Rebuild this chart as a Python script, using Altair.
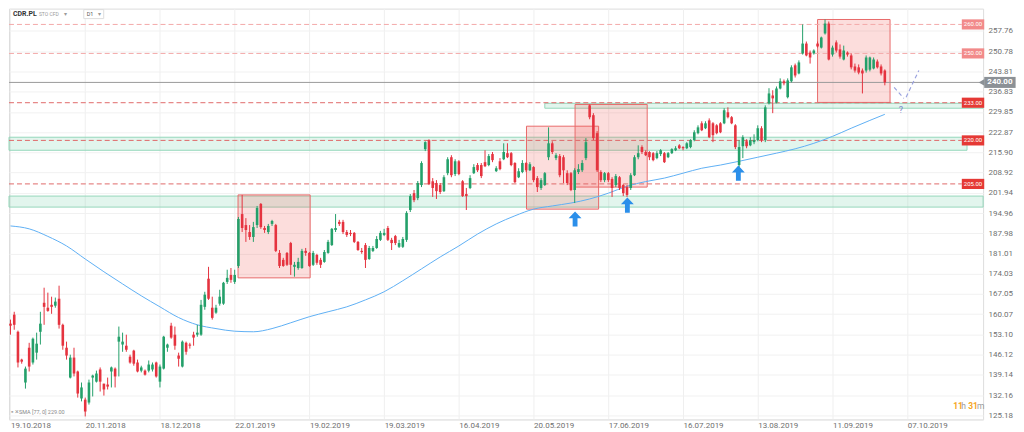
import altair as alt
import pandas as pd

# ---------------- data ----------------
OPEN = [156.8,159.9,154.0,144.4,136.5,148.5,143.4,146.8,154.0,164.0,
        162.3,163.3,163.0,165.4,156.4,148.5,138.2,145.1,140.3,131.0,
        130.6,129.6,138.2,136.8,141.0,136.1,135.8,140.3,141.3,150.6,
        149.6,149.2,145.4,147.5,143.4,140.6,140.6,140.6,141.0,143.4,
        136.8,141.3,148.5,156.1,153.0,145.8,142.0,150.2,149.6,153.0,
        153.0,153.0,162.6,172.3,162.3,160.6,163.7,163.7,171.2,173.6,
        171.2,176.7,194.6,190.8,188.4,186.7,190.8,198.1,189.8,188.4,
        191.2,190.8,181.2,178.8,181.2,184.6,176.4,176.0,176.0,181.9,
        181.2,177.1,180.5,178.8,178.1,181.2,183.9,189.1,191.9,191.9,
        188.4,188.1,188.1,185.0,181.9,183.9,179.1,181.9,182.9,185.7,
        187.4,189.8,185.7,187.0,183.3,183.3,185.7,196.0,201.8,200.1,
        204.6,217.0,220.1,205.9,205.3,204.6,202.5,208.7,214.2,208.4,
        212.8,205.9,201.5,203.6,208.7,211.5,211.5,212.5,211.5,215.3,
        209.4,212.8,213.5,215.6,215.6,212.2,207.3,209.1,212.2,209.7,
        210.8,207.0,203.6,204.6,214.2,219.0,213.9,214.6,214.2,208.7,
        208.7,202.9,209.1,209.7,213.9,232.1,228.7,222.5,209.1,206.3,
        208.7,206.7,204.6,207.3,204.6,203.9,203.6,208.0,214.2,217.7,
        216.0,216.0,215.6,213.9,215.3,215.6,214.2,215.6,216.6,218.3,
        217.7,217.3,217.7,220.1,222.5,225.9,224.2,226.9,225.9,225.2,
        225.9,225.9,229.7,228.0,225.2,211.5,218.0,219.7,218.3,219.4,
        220.1,224.2,220.1,232.8,235.5,233.1,237.9,240.4,234.9,240.4,
        245.9,243.1,250.0,253.4,250.3,250.0,253.4,252.0,256.9,260.3,
        249.6,253.8,251.4,247.9,250.3,249.3,245.5,245.2,244.1,244.1,
        244.4,244.8,247.2,245.5,244.1]
HIGH = [158.2,160.9,154.4,144.7,142.0,150.2,152.0,153.7,160.9,169.2,
        167.5,166.1,165.8,169.9,156.8,150.6,146.1,148.5,140.6,136.5,
        131.3,137.5,139.2,140.6,141.7,136.1,138.2,142.0,141.7,155.8,
        153.7,153.0,146.1,147.8,144.4,142.3,141.0,144.1,143.4,143.7,
        142.7,152.6,149.9,157.1,155.8,146.8,151.0,150.6,150.2,154.0,
        156.4,165.0,167.8,176.4,166.1,163.3,168.5,171.2,175.4,176.0,
        175.4,193.6,201.2,193.2,190.8,191.9,197.4,198.4,190.5,191.2,
        192.6,191.2,182.2,179.5,181.5,185.0,178.1,179.5,182.6,182.9,
        181.5,181.9,180.9,179.5,182.2,185.7,189.8,194.6,192.6,192.6,
        189.1,189.1,188.4,185.3,182.9,184.6,183.6,183.6,187.0,188.8,
        189.5,190.5,186.4,187.4,185.7,186.7,195.6,201.5,202.9,206.0,
        212.8,219.7,220.4,207.0,206.3,205.3,208.0,214.2,214.9,213.5,
        213.2,206.3,203.6,208.0,211.8,212.2,212.2,216.6,215.3,216.0,
        211.1,213.9,219.0,219.0,216.0,212.5,210.4,213.2,212.5,212.5,
        211.1,207.7,207.0,209.1,224.5,219.7,215.6,215.3,214.9,209.7,
        209.1,210.4,211.8,213.2,220.8,232.4,229.4,223.2,209.7,209.1,
        209.1,207.3,208.4,207.7,204.9,204.6,208.7,214.9,218.3,218.3,
        216.6,216.3,216.0,216.3,217.0,216.0,216.0,217.3,218.0,218.7,
        218.0,219.4,220.4,223.5,225.2,226.6,226.6,227.6,226.3,225.6,
        226.3,231.1,231.4,228.4,225.6,220.1,221.8,220.4,221.1,222.1,
        225.2,224.9,232.1,238.0,237.3,238.6,241.4,241.0,241.4,245.9,
        246.5,247.6,260.0,254.1,251.0,251.4,254.1,255.8,261.7,261.0,
        252.7,254.5,253.1,252.7,250.7,250.0,246.5,246.2,244.8,249.3,
        248.9,248.6,247.9,246.2,244.5]
LOW = [153.0,154.7,141.7,143.0,134.4,140.3,142.7,144.4,149.6,156.4,
       160.9,160.2,162.3,155.1,147.8,144.4,137.9,138.6,131.3,130.0,
       124.8,128.9,131.7,136.5,133.4,132.0,134.1,134.8,134.8,138.6,
       147.1,147.1,143.0,142.3,140.0,140.0,138.9,140.0,140.3,138.2,
       134.8,141.0,147.1,151.6,147.8,142.0,141.7,146.1,148.2,149.2,
       152.3,152.6,161.6,165.0,158.2,160.2,163.0,163.3,170.5,170.9,
       170.5,176.0,188.4,185.0,185.7,185.0,189.8,189.5,188.1,187.7,
       190.5,181.5,176.0,176.4,176.7,173.6,173.0,175.4,175.7,180.2,
       176.4,176.7,177.1,176.0,177.8,180.9,183.6,188.4,190.5,187.7,
       186.7,187.0,184.6,181.9,180.9,176.0,178.8,181.5,182.6,185.3,
       187.0,185.3,182.2,183.9,182.9,182.9,185.0,195.3,198.7,199.4,
       203.9,216.3,204.6,200.5,199.8,201.5,202.2,208.0,207.3,207.7,
       208.0,200.5,196.0,203.2,208.4,209.1,207.0,210.8,211.1,212.5,
       209.1,209.7,213.2,213.9,211.1,205.3,207.0,208.7,209.1,209.4,
       205.6,202.2,202.9,204.3,213.2,215.3,213.2,207.3,205.3,204.6,
       202.5,198.4,208.4,209.1,213.2,227.3,220.1,209.1,205.6,205.6,
       205.6,200.5,203.9,202.9,200.8,200.5,202.9,207.7,213.5,215.3,
       214.6,213.2,212.8,213.5,214.6,212.2,213.9,215.3,216.3,217.0,
       216.6,217.0,217.3,219.7,222.1,223.2,223.9,220.8,219.4,222.1,
       222.5,225.6,227.6,225.6,217.0,210.8,213.9,217.3,218.0,218.7,
       219.7,219.4,219.4,232.4,229.4,232.8,237.6,239.0,234.5,240.0,
       241.7,242.8,249.6,249.0,246.5,249.6,252.0,251.7,256.5,247.6,
       248.9,250.3,248.2,247.6,248.9,244.5,243.4,242.8,236.2,243.4,
       243.8,244.5,244.8,242.4,239.0]
CLOSE = [156.1,156.4,143.4,143.7,141.3,142.0,151.6,149.9,156.8,162.6,
         161.2,162.6,164.4,156.4,149.2,145.8,145.1,139.6,132.7,134.8,
         126.5,136.5,138.9,139.6,136.8,134.1,135.1,141.7,138.6,152.3,
         150.6,147.8,143.4,143.0,140.3,141.7,139.2,142.7,142.7,138.6,
         142.0,152.3,149.6,152.0,149.2,144.7,150.6,147.1,149.2,152.0,
         153.7,163.3,166.8,165.4,158.8,162.3,166.1,170.9,172.6,171.9,
         173.6,192.9,189.8,189.1,186.7,190.1,196.7,190.1,189.1,190.5,
         192.2,181.9,176.7,176.7,177.1,177.1,177.1,178.1,181.9,181.2,
         176.7,181.2,177.8,177.1,181.5,185.0,189.5,189.8,191.2,188.4,
         187.4,187.7,185.0,182.2,181.5,178.8,182.9,182.9,186.0,188.1,
         188.1,185.7,184.6,184.6,184.6,186.0,195.0,200.8,199.4,205.3,
         212.2,219.4,204.9,203.6,202.5,202.2,207.3,213.5,208.0,212.8,
         208.4,200.8,200.8,207.0,210.8,209.7,207.7,211.1,214.6,213.2,
         210.4,210.1,216.0,214.2,211.5,205.6,209.4,212.2,209.7,211.8,
         206.3,203.9,206.3,208.7,219.0,216.0,214.9,208.0,209.7,205.3,
         202.9,209.7,210.1,212.2,219.4,228.0,220.8,209.7,206.3,208.7,
         206.3,203.6,207.7,203.6,201.8,201.2,208.0,214.2,215.6,216.0,
         214.9,214.2,213.2,215.6,216.6,212.5,215.6,217.0,217.3,217.3,
         217.3,219.0,220.1,222.8,224.5,223.5,225.9,221.1,221.8,222.5,
         222.8,230.4,228.0,225.9,217.7,217.7,221.1,218.0,220.1,220.1,
         224.2,220.1,231.4,236.2,234.5,237.9,240.4,239.7,240.7,245.2,
         242.4,246.9,253.4,249.3,248.6,251.0,252.4,255.5,260.3,247.9,
         252.0,251.0,248.9,251.0,249.6,245.2,244.1,243.4,243.1,248.6,
         248.6,247.9,245.2,243.1,240.0]

SMA_IDX = list(range(0, 231, 5)) + [234]
SMA_VAL = [190.5,189.5,186.9,183.6,179.1,174.7,170.5,166.4,162.6,158.9,
           156.4,155.1,154.2,154.0,155.1,157.1,159.2,160.9,162.6,165.0,
           167.8,171.6,175.7,179.8,183.6,187.7,191.2,194.0,196.3,197.4,
           198.4,199.8,201.8,204.2,205.8,207.0,208.7,210.4,211.5,212.8,
           214.2,215.6,217.1,219.0,221.4,224.2,226.9,229.0]

DATE_LABELS = ["19.10.2018","20.11.2018","18.12.2018","22.01.2019","19.02.2019",
               "19.03.2019","16.04.2019","20.05.2019","17.06.2019","16.07.2019",
               "13.08.2019","11.09.2019","07.10.2019"]
DATE_TICKS = [0,20,40,60,80,100,120,140,160,180,200,220,240]
Y_TICKS = [125.18,132.16,139.14,146.12,153.10,160.07,167.05,174.03,181.01,187.98,
           194.96,201.94,208.92,215.90,222.87,229.85,236.83,243.81,250.78,257.76]

LEVELS = [260.0, 250.0, 233.0, 220.0, 205.0]
LEVEL_STRONG = [0, 0, 1, 1, 1]
LAST_PRICE = 240.0

ZONE_LO = [216.6, 197.0, 231.1]
ZONE_HI = [221.1, 200.8, 232.8]
ZONE_X0 = [-0.4, -0.4, 143.0]
ZONE_X1 = [256.0, 260.3, 260.3]

BOX_X0 = [60.9, 138.1, 151.1, 216.0]
BOX_X1 = [80.2, 157.4, 170.4, 235.4]
BOX_LO = [172.6, 196.3, 203.9, 233.1]
BOX_HI = [201.2, 224.9, 232.4, 261.7]

ARROW_IDX = [151.1, 165.1, 194.8]
ARROW_PRICE = [192.9, 197.7, 208.7]

V_IDX = [236.5, 239.1, 239.7, 243.1]
V_PRICE = [238.3, 234.5, 234.9, 244.1]
V_SEG = [0, 0, 1, 1]

# ---------------- styling ----------------
GREEN = "#24a06a"
RED = "#e5333f"
FONT = "Roboto"
XS = alt.Scale(domain=[-0.4, 260.3], nice=False, zero=False, padding=0)
YS = alt.Scale(domain=[123.78, 265.45], nice=False, zero=False, padding=0)

label_expr = "[" + ",".join(f"'{d}'" for d in DATE_LABELS) + "][round(datum.value/20)]"

X_AXIS = alt.Axis(values=DATE_TICKS, labelExpr=label_expr, labelAlign="left",
                  labelBaseline="top", labelPadding=2, ticks=False, domain=True,
                  domainColor="#e6e6e6", grid=True, gridColor="#efefef",
                  labelFontSize=8, labelColor="#6f6f6f", labelFont=FONT, title=None,
                  labelFlush=False, labelOverlap=False)
Y_AXIS = alt.Axis(orient="right", values=Y_TICKS, format=".2f", labelFontSize=8,
                  labelColor="#6f6f6f", labelFont=FONT, grid=True, gridColor="#f1f1f1",
                  domain=False, ticks=False, labelPadding=5, title=None,
                  labelFlush=False, labelOverlap=False)


def X(field):
    return alt.X(field, type="quantitative", scale=XS, axis=X_AXIS)


def Y(field):
    return alt.Y(field, type="quantitative", scale=YS, axis=Y_AXIS)


def XD(v):
    return alt.XDatum(v, type="quantitative", scale=XS, axis=X_AXIS)


def YD(v):
    return alt.YDatum(v, type="quantitative", scale=YS, axis=Y_AXIS)


n = len(OPEN)
candles = pd.DataFrame({"idx": list(range(n)), "o": OPEN, "h": HIGH, "l": LOW, "c": CLOSE})
up_color = alt.condition("datum.c >= datum.o", alt.value(GREEN), alt.value(RED))

sma = pd.DataFrame({"idx": SMA_IDX, "v": SMA_VAL})
levels = pd.DataFrame({"level": LEVELS, "strong": LEVEL_STRONG,
                       "txt": [f"{v:.2f}" for v in LEVELS]})
levels["lo"] = levels["level"] - 1.75
levels["hi"] = levels["level"] + 1.75
zones = pd.DataFrame({"lo": ZONE_LO, "hi": ZONE_HI, "x0": ZONE_X0, "x1": ZONE_X1})
boxes = pd.DataFrame({"x0": BOX_X0, "x1": BOX_X1, "lo": BOX_LO, "hi": BOX_HI})
arrows = pd.DataFrame({"idx": ARROW_IDX, "p": ARROW_PRICE})
vline = pd.DataFrame({"idx": V_IDX, "p": V_PRICE, "seg": V_SEG})
last = pd.DataFrame({"p": [LAST_PRICE], "lo": [LAST_PRICE - 1.9],
                     "hi": [LAST_PRICE + 1.9], "txt": [f"{LAST_PRICE:.2f}"]})
one = pd.DataFrame({"t": ["?"]})

wicks = alt.Chart(candles).mark_rule(strokeWidth=1).encode(
    x=X("idx"), y=Y("l"), y2="h", color=up_color)
bodies = alt.Chart(candles).mark_bar(size=2.6).encode(
    x=X("idx"), y=Y("o"), y2="c", color=up_color)

zone_layer = alt.Chart(zones).mark_rect(fill="#6fcfa5", fillOpacity=0.2,
                                        stroke="#95d7bb", strokeWidth=1).encode(
    x=X("x0"), x2="x1", y=Y("lo"), y2="hi")

box_layer = alt.Chart(boxes).mark_rect(fill="#ef5350", fillOpacity=0.2,
                                       stroke="#e86a6a", strokeWidth=1).encode(
    x=X("x0"), x2="x1", y=Y("lo"), y2="hi")

strong_line = alt.condition("datum.strong == 1", alt.value("#e06a6a"), alt.value("#f3a9a9"))
strong_chip = alt.condition("datum.strong == 1", alt.value("#e53935"), alt.value("#f28a8a"))

level_lines = alt.Chart(levels).mark_rule(strokeDash=[5, 3], strokeWidth=1).encode(
    x=XD(-0.4), x2=alt.X2Datum(254.6), y=Y("level"), color=strong_line)
level_chips = alt.Chart(levels).mark_rect().encode(
    x=XD(254.6), x2=alt.X2Datum(260.6), y=Y("lo"), y2="hi", color=strong_chip)
level_text = alt.Chart(levels).mark_text(fontSize=6, color="white", font=FONT,
                                         align="center", baseline="middle").encode(
    x=XD(257.6), y=Y("level"), text="txt:N")

last_line = alt.Chart(last).mark_rule(color="#9a9a9a", strokeWidth=1).encode(
    x=XD(-0.4), x2=alt.X2Datum(260.3), y=Y("p"))
last_chip = alt.Chart(last).mark_rect(color="#8c9196").encode(
    x=XD(260.6), x2=alt.X2Datum(269.0), y=Y("lo"), y2="hi")
last_notch = alt.Chart(last).mark_point(shape="triangle-left", filled=True,
                                        color="#8c9196", size=45, opacity=1).encode(
    x=XD(259.9), y=Y("p"))
last_text = alt.Chart(last).mark_text(fontSize=8, color="white", font=FONT,
                                      fontWeight="bold", align="center",
                                      baseline="middle").encode(
    x=XD(264.8), y=Y("p"), text="txt:N")

sma_line = alt.Chart(sma).mark_line(color="#5fb0f4", strokeWidth=1,
                                    interpolate="monotone").encode(x=X("idx"), y=Y("v"))

ARROW_PATH = "M0,-1L0.85,-0.1L0.32,-0.1L0.32,1L-0.32,1L-0.32,-0.1L-0.85,-0.1Z"
arrow_layer = alt.Chart(arrows).mark_point(shape=ARROW_PATH, filled=True,
                                           color="#2b8fea", size=230, opacity=1,
                                           strokeWidth=0).encode(x=X("idx"), y=Y("p"))

v_layer = alt.Chart(vline).mark_line(color="#9ba3df", strokeDash=[4, 3],
                                     strokeWidth=1.2).encode(
    x=X("idx"), y=Y("p"), detail="seg:N")
q_layer = alt.Chart(one).mark_text(fontSize=9, color="#7b83c9", font=FONT).encode(
    x=XD(238.3), y=YD(230.4), text="t:N")


def label(txt, x, y, size, color, weight="normal", align="left"):
    return alt.Chart(pd.DataFrame({"t": [txt]})).mark_text(
        align=align, baseline="middle", fontSize=size, color=color,
        fontWeight=weight, font=FONT).encode(x=alt.value(x), y=alt.value(y), text="t:N")


hdr_box = alt.Chart(pd.DataFrame({"t": [""]})).mark_rect(
    fill="white", stroke="#dddddd", strokeWidth=1).encode(
    x=alt.value(75), x2=alt.value(95), y=alt.value(1), y2=alt.value(10))

annotations = [
    hdr_box,
    label("CDR.PL", 4, 5.5, 7, "#333333", "bold"),
    label("STO CFD", 30, 5.5, 5, "#9a9a9a"),
    label("▾", 55, 5, 6, "#9a9a9a"),
    label("D1", 78, 5.5, 5.5, "#555555"),
    label("▾", 89, 5, 6, "#9a9a9a"),
    label("▪", 2, 405, 7, "#aaaaaa"),
    label("×", 6, 405, 7, "#999999"),
    label("SMA [77, 0] 229.00", 10, 405, 5.5, "#888888"),
    label("11", 947, 399, 8.5, "#f5a623", "bold"),
    label("h", 955, 399, 8.5, "#9a9a9a"),
    label("31", 962, 399, 8.5, "#f5a623", "bold"),
    label("m", 971, 399, 8.5, "#9a9a9a"),
]

chart = alt.layer(
    zone_layer, box_layer, level_lines, last_line, sma_line,
    wicks, bodies, arrow_layer, v_layer, q_layer,
    level_chips, level_text, last_chip, last_notch, last_text,
    *annotations,
).properties(width=977, height=412, padding=0, background="white").configure_view(
    stroke=None
).configure(font=FONT)

chart.save("out.html", embed_options={"renderer": "svg", "actions": False})
